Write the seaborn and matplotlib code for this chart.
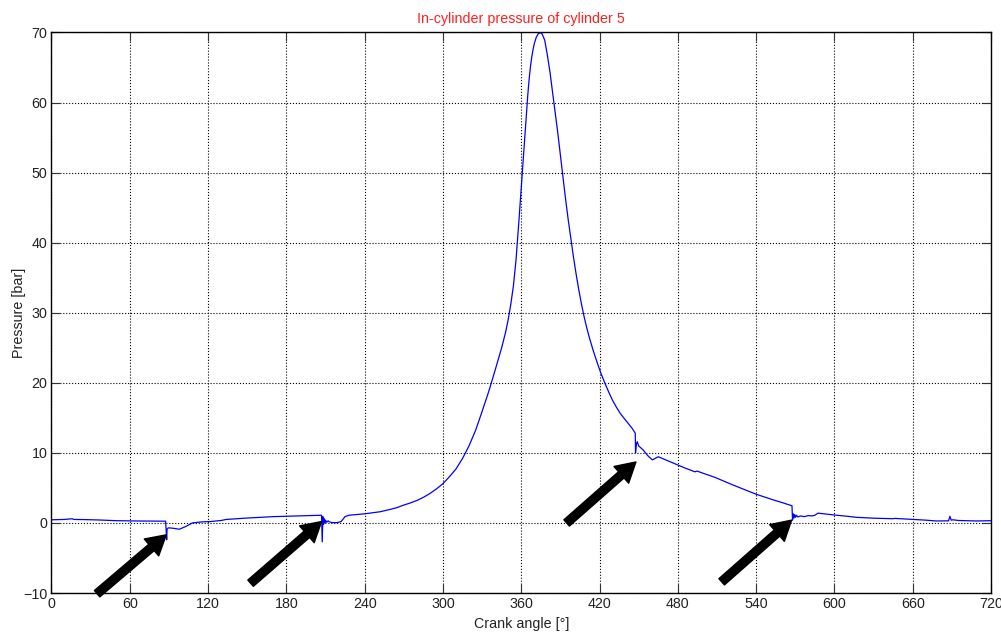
"""
In-cylinder pressure trace, cylinder 5
"""
import numpy as np
import pandas as pd
import seaborn as sns
import matplotlib
matplotlib.use('agg')
import matplotlib.pyplot as plt

# crank angle [deg] and pressure [bar]
angle = [0, 10, 16, 17, 25, 37, 50, 65, 80, 87.5, 88.0, 88.3, 88.6, 89.5, 93, 98, 103, 108, 115, 122,
         130, 134, 150, 170, 190, 200, 207, 207.5, 208, 208.5, 209, 209.5, 210, 211, 212, 213, 215, 219,
         222, 225, 228, 240, 252, 260, 265, 270, 275, 280, 285, 290, 295, 300, 305, 310, 315, 320, 325,
         330, 335, 340, 345, 348, 350, 352, 354, 356, 358, 360, 362, 364, 365, 366, 367, 368, 369, 370,
         371.5, 373, 374.5, 376, 378, 380, 382, 384, 386, 388, 390, 392, 394, 396, 398, 400, 402, 404,
         406, 408, 410, 412, 415, 418, 421, 424, 427, 430, 433, 436, 439, 442, 445,
         447.4, 447.6, 448.2, 448.9, 450, 453.5, 457, 460.5, 462.5, 465, 472, 479.5, 486, 493, 495,
         497, 508.5, 522.5, 540, 553, 560, 567.5, 567.9, 568.4, 569, 569.6, 570.2, 571, 572, 574, 577,
         580, 583, 585, 587.5, 592, 599, 610, 617, 630, 645, 646, 660, 670, 678, 687.5, 688.5, 689.5,
         691, 695, 709, 720]
pressure = [0.45, 0.5, 0.6, 0.5, 0.48, 0.42, 0.32, 0.28, 0.26, 0.25, -1.5, -2.4, -0.9, -0.7, -0.75, -0.9,
            -0.5, 0.0, 0.15, 0.2, 0.35, 0.5, 0.7, 0.9, 1.0, 1.05, 1.1, -2.7, 0.9, -0.2, 0.6, 0.0, 0.4, 0.1,
            0.3, 0.15, 0.05, 0.05, 0.2, 0.9, 1.1, 1.3, 1.6, 1.95, 2.2, 2.55, 2.85, 3.2, 3.65, 4.2, 4.85,
            5.6, 6.6, 7.7, 9.2, 11.0, 13.2, 15.9, 18.7, 21.8, 25.0, 27.2, 29.0, 31.2, 33.8, 37.5, 42.5,
            47.8, 53.2, 58.5, 61.0, 63.2, 65.0, 66.4, 67.5, 68.4, 69.3, 69.8, 70.0, 69.8, 68.9, 66.8,
            64.4, 61.5, 58.6, 55.7, 52.5, 49.3, 46.2, 43.3, 40.6, 38.0, 35.6, 33.4, 31.4, 29.6, 28.0,
            26.6, 24.7, 23.0, 21.4, 20.0, 18.7, 17.5, 16.5, 15.6, 14.9, 14.2, 13.5,
            12.8, 10.0, 11.2, 11.6, 11.0, 10.4, 9.6, 9.0, 9.2, 9.45, 8.9, 8.3, 7.8, 7.3, 7.4, 7.25, 6.5,
            5.4, 4.1, 3.3, 2.9, 2.45, 0.4, 1.3, 0.7, 1.2, 0.8, 1.1, 0.85, 1.0, 0.9, 1.05, 1.0, 1.1, 1.4,
            1.3, 1.15, 0.95, 0.8, 0.68, 0.6, 0.65, 0.5, 0.4, 0.28, 0.3, 0.95, 0.4, 0.45, 0.35, 0.28, 0.32]

# arrows pointing at the valve events: (tail, tip) in data coords
arrow_tails = [(35, -10.1), (152.6, -8.6), (394.8, 0.0), (513.6, -8.4)]
arrow_tips = [(88, -1.7), (207, 0.2), (447.9, 8.7), (567.2, 0.4)]

x_ticks = list(range(0, 721, 60))
y_ticks = list(range(-10, 71, 10))

sns.set_style("ticks")
plt.rcParams['font.family'] = ['Liberation Sans', 'DejaVu Sans']
fs = 10.3

df = pd.DataFrame({'angle': angle, 'pressure': pressure})

fig = plt.figure(figsize=(10.01, 6.32), dpi=100)
ax = fig.add_axes([0.0514, 0.0617, 0.9386, 0.8869])
sns.lineplot(x='angle', y='pressure', data=df, ax=ax, color='#0000ff', linewidth=0.9,
             sort=False, estimator=None)

ax.set_xlim(0, 720)
ax.set_ylim(-10, 70)
ax.set_xticks(x_ticks)
ax.set_yticks(y_ticks)
ax.grid(True, linestyle=':', color='black', linewidth=0.8)
ax.tick_params(direction='in', length=6.5, width=0.8, top=True, right=True,
               colors='#333333', labelcolor='#222222', labelsize=fs, pad=3)
for sp in ax.spines.values():
    sp.set_visible(True)
    sp.set_color('black')
    sp.set_linewidth(1.0)

ax.set_title('In-cylinder pressure of cylinder 5', color='#ff2020', fontsize=fs, pad=7)
ax.set_xlabel('Crank angle [°]', fontsize=fs, labelpad=4, color='#222222')
ax.set_ylabel('Pressure [bar]', fontsize=fs, labelpad=-2, color='#222222')

for tail, tip in zip(arrow_tails, arrow_tips):
    ax.annotate('', xy=tip, xytext=tail, annotation_clip=False,
                arrowprops=dict(facecolor='black', edgecolor='black', width=6,
                                headwidth=16, headlength=14, shrink=0))

plt.savefig('out.png', dpi=100)
plt.close()
